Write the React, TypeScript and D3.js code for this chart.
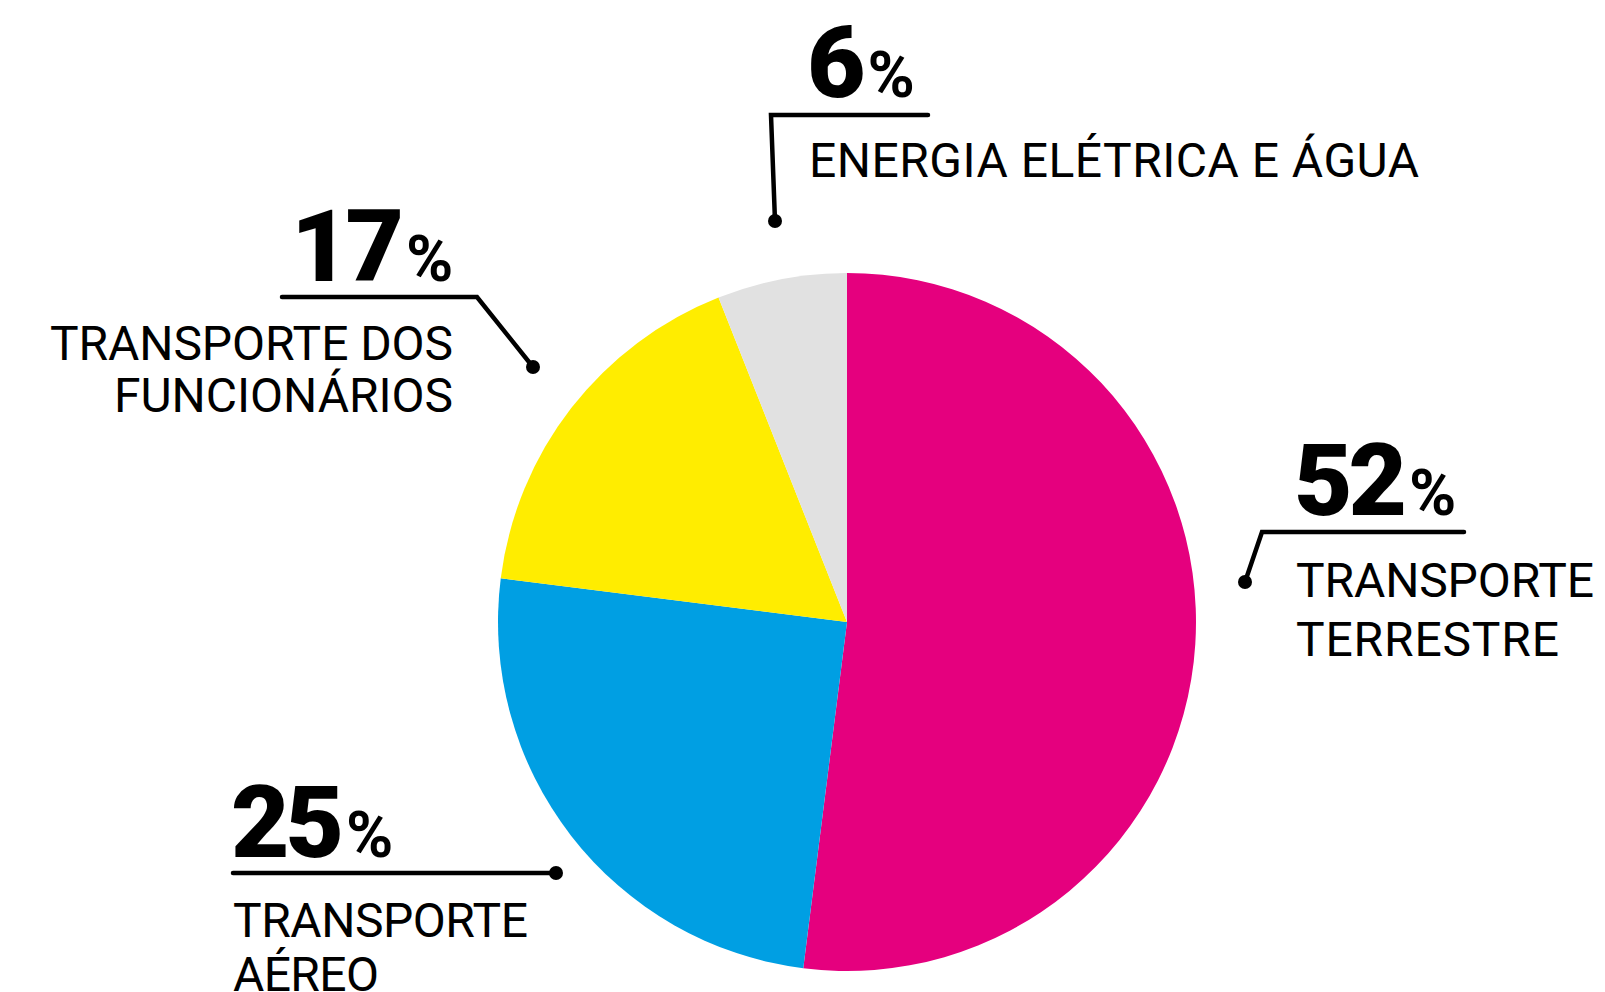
import React from "react";
import * as d3 from "d3";

const categories = ["TRANSPORTE TERRESTRE", "TRANSPORTE AÉREO", "TRANSPORTE DOS FUNCIONÁRIOS", "ENERGIA ELÉTRICA E ÁGUA"];
const values = [52, 25, 17, 6];
const colors = ["#E5007E", "#009FE3", "#FFED00", "#E1E1E1"];
const labelLines = [
  ["TRANSPORTE", "TERRESTRE"],
  ["TRANSPORTE", "AÉREO"],
  ["TRANSPORTE DOS", "FUNCIONÁRIOS"],
  ["ENERGIA ELÉTRICA E ÁGUA"],
];

// layout (positions of the callouts)
const layout = [
  {
    num: { x: 1294, y: 515 },
    lines: [{ x: 1296, y: 597, w: 298 }, { x: 1296, y: 656, w: 263 }],
    leader: [[1464, 532], [1262, 532], [1245, 582]],
  },
  {
    num: { x: 231, y: 857 },
    lines: [{ x: 233, y: 937, w: 295 }, { x: 233, y: 991, w: 146 }],
    leader: [[233, 873], [556, 873]],
  },
  {
    num: { x: 291, y: 281 },
    lines: [{ x: 50, y: 360, w: 403 }, { x: 114, y: 412, w: 339 }],
    leader: [[282, 297], [477, 297], [533, 367]],
  },
  {
    num: { x: 807, y: 97 },
    lines: [{ x: 809, y: 177, w: 610 }],
    leader: [[928, 115], [771, 115], [775, 221]],
  },
];

const W = 1605;
const H = 992;
const cx = 847;
const cy = 622;
const R = 349;

export default function App() {
  const pie = d3.pie<number>().sort(null).value((d) => d).startAngle(0).endAngle(2 * Math.PI);
  const arcs = pie(values);
  const arc = d3.arc<d3.PieArcDatum<number>>().innerRadius(0).outerRadius(R);
  const line = d3.line();
  const font = "Roboto, 'DejaVu Sans', sans-serif";

  return (
    <svg width={W} height={H} style={{ position: "absolute", left: 0, top: 0, background: "#fff" }}>
      <g transform={`translate(${cx},${cy})`}>
        {arcs.map((a, i) => (
          <path key={categories[i]} d={arc(a) || ""} fill={colors[i]} />
        ))}
      </g>
      {values.map((v, i) => {
        const L = layout[i];
        const pts = L.leader as [number, number][];
        const end = pts[pts.length - 1];
        return (
          <g key={"lab" + i}>
            <path d={line(pts) || ""} fill="none" stroke="#000" strokeWidth={4.5} strokeLinecap="round" strokeLinejoin="miter" />
            <circle cx={end[0]} cy={end[1]} r={7} fill="#000" />
            <text x={L.num.x} y={L.num.y} fontFamily={font} fill="#000">
              <tspan fontWeight={900} fontSize={101} letterSpacing={-4}>{String(v)}</tspan>
              <tspan fontWeight={700} fontSize={64} dx={6}>%</tspan>
            </text>
            {labelLines[i].map((t, j) => (
              <text key={j} x={L.lines[j].x} y={L.lines[j].y} fontFamily={font} fontWeight={400} fontSize={48}
                textLength={L.lines[j].w} lengthAdjust="spacing" fill="#000">{t}</text>
            ))}
          </g>
        );
      })}
    </svg>
  );
}
